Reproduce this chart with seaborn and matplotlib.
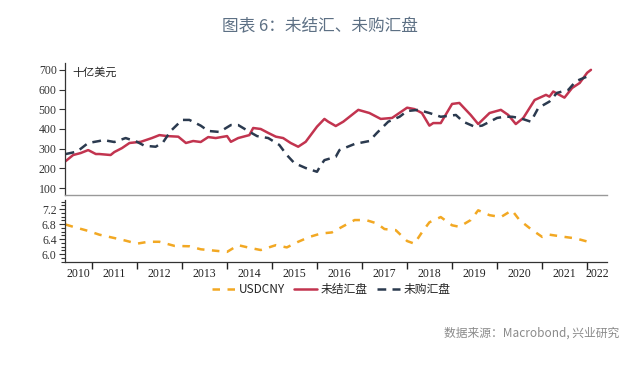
import pandas as pd
import matplotlib.pyplot as plt
import matplotlib.dates as mdates
from matplotlib.ticker import MultipleLocator, FixedLocator, NullFormatter
import seaborn as sns

# Data
red_dates = ['2010-06', '2010-08', '2010-10', '2010-12', '2011-02', '2011-03', '2011-06', '2011-07',
             '2011-09', '2011-11', '2012-02', '2012-05', '2012-07', '2012-09', '2012-12', '2013-02',
             '2013-04', '2013-06', '2013-08', '2013-10', '2014-01', '2014-02', '2014-04', '2014-07',
             '2014-08', '2014-10', '2014-12', '2015-02', '2015-04', '2015-06', '2015-08', '2015-10',
             '2016-01', '2016-03', '2016-04', '2016-06', '2016-08', '2016-12', '2017-03', '2017-06',
             '2017-09', '2018-01', '2018-03', '2018-05', '2018-07', '2018-08', '2018-10', '2019-01',
             '2019-03', '2019-06', '2019-08', '2019-11', '2020-02', '2020-04', '2020-06', '2020-08',
             '2020-11', '2021-02', '2021-03', '2021-04', '2021-07', '2021-09', '2021-11', '2022-01',
             '2022-02']
red_vals = [237, 268, 278, 293, 273, 273, 268, 283, 303, 329, 335, 354, 369, 364, 361, 329,
            339, 334, 359, 354, 364, 335, 354, 369, 405, 400, 380, 361, 354, 329, 310, 335,
            412, 451, 437, 415, 437, 497, 481, 451, 456, 508, 501, 481, 417, 430, 430, 527,
            532, 471, 425, 481, 497, 471, 425, 456, 547, 573, 564, 590, 559, 608, 633, 685,
            700]

navy_dates = ['2010-06', '2010-09', '2010-12', '2011-03', '2011-04', '2011-07', '2011-10', '2012-01',
              '2012-03', '2012-06', '2012-08', '2012-10', '2013-01', '2013-03', '2013-06', '2013-08',
              '2013-11', '2014-02', '2014-04', '2014-07', '2014-09', '2014-12', '2015-03', '2015-05',
              '2015-07', '2015-10', '2016-01', '2016-02', '2016-03', '2016-06', '2016-07', '2016-11',
              '2017-03', '2017-05', '2017-08', '2017-11', '2018-01', '2018-04', '2018-07', '2018-10',
              '2019-02', '2019-04', '2019-07', '2019-09', '2020-01', '2020-03', '2020-05', '2020-07',
              '2020-10', '2020-12', '2021-03', '2021-05', '2021-08', '2021-10', '2022-01', '2022-02']
navy_vals = [273, 285, 329, 339, 344, 334, 354, 335, 315, 310, 334, 390, 446, 446, 417, 390,
             385, 420, 420, 386, 364, 354, 319, 268, 227, 202, 183, 217, 242, 259, 293, 324,
             339, 380, 437, 462, 491, 497, 481, 462, 471, 437, 412, 417, 456, 462, 462, 456,
             437, 507, 539, 583, 598, 642, 666, 666]

fx_dates = ['2010-06', '2010-08', '2010-12', '2011-03', '2011-07', '2011-10', '2012-01', '2012-04',
            '2012-07', '2012-11', '2013-03', '2013-06', '2013-10', '2014-01', '2014-04', '2014-07',
            '2014-10', '2015-02', '2015-05', '2015-08', '2015-11', '2016-02', '2016-05', '2016-07',
            '2016-11', '2017-02', '2017-05', '2017-07', '2017-10', '2018-01', '2018-03', '2018-05',
            '2018-07', '2018-10', '2019-01', '2019-03', '2019-06', '2019-08', '2019-11', '2020-02',
            '2020-05', '2020-07', '2020-10', '2021-01', '2021-03', '2021-07', '2021-10', '2022-02']
fx_vals = [6.79, 6.73, 6.62, 6.52, 6.43, 6.36, 6.28, 6.33, 6.33, 6.22, 6.21, 6.13, 6.09, 6.06,
           6.24, 6.17, 6.11, 6.24, 6.18, 6.33, 6.46, 6.55, 6.58, 6.69, 6.91, 6.91, 6.82, 6.67,
           6.64, 6.35, 6.28, 6.58, 6.85, 6.99, 6.77, 6.73, 6.91, 7.17, 7.04, 6.99, 7.17, 6.91,
           6.67, 6.46, 6.52, 6.46, 6.42, 6.31]

years = list(range(2010, 2023))

df_red = pd.DataFrame({'date': pd.to_datetime(red_dates), 'val': red_vals})
df_navy = pd.DataFrame({'date': pd.to_datetime(navy_dates), 'val': navy_vals})
df_fx = pd.DataFrame({'date': pd.to_datetime(fx_dates), 'val': fx_vals})

sns.set_style('white')
plt.rcParams['font.family'] = ['Liberation Serif', 'Noto Sans CJK SC', 'DejaVu Sans']

RED = '#c2344f'
NAVY = '#2b3a4f'
ORANGE = '#f2a823'

fig = plt.figure(figsize=(6.4, 3.68), dpi=100)
ax1 = fig.add_axes([0.1016, 0.470, 0.847, 0.359])
ax2 = fig.add_axes([0.1016, 0.288, 0.847, 0.168])

sns.lineplot(data=df_red, x='date', y='val', ax=ax1, color=RED, linewidth=1.8, label='未结汇盘')
sns.lineplot(data=df_navy, x='date', y='val', ax=ax1, color=NAVY, linewidth=1.8,
             linestyle=(0, (3.5, 2.5)), label='未购汇盘')
sns.lineplot(data=df_fx, x='date', y='val', ax=ax2, color=ORANGE, linewidth=1.8,
             linestyle=(0, (3, 3)), label='USDCNY')

xmin = pd.Timestamp('2010-05-27')
xmax = pd.Timestamp('2022-06-12')
for ax in (ax1, ax2):
    ax.set_xlim(xmin, xmax)
    ax.set_xlabel('')
    ax.set_ylabel('')
    ax.spines['top'].set_visible(False)
    ax.spines['right'].set_visible(False)
    ax.spines['left'].set_color('#333333')
    ax.spines['left'].set_linewidth(0.9)
    ax.tick_params(axis='y', which='both', direction='out', length=4, width=0.8,
                   colors='#333333', labelsize=8.5, left=True, pad=2)
    ax.get_legend().remove()

# top panel
ax1.set_ylim(65, 735)
ax1.set_yticks(range(100, 701, 100))
ax1.spines['bottom'].set_color('#999999')
ax1.spines['bottom'].set_linewidth(1.0)
ax1.tick_params(axis='x', which='both', bottom=False, labelbottom=False)
ax1.text(0.013, 0.93, '十亿美元', transform=ax1.transAxes, fontsize=8,
         family=['Noto Sans CJK SC'], color='#222222', va='center', ha='left')

# bottom panel
ax2.set_ylim(5.79, 7.44)
ax2.set_yticks([6.0, 6.4, 6.8, 7.2])
ax2.yaxis.set_minor_locator(MultipleLocator(0.1))
ax2.tick_params(axis='y', which='minor', length=3)
ax2.yaxis.set_major_formatter(plt.FuncFormatter(lambda v, p: f'{v:.1f}'))
ax2.spines['bottom'].set_color('#333333')
ax2.spines['bottom'].set_linewidth(0.9)

# year boundary ticks, labels centred on the visible part of each year
bounds = [pd.Timestamp(f'{y}-01-01') for y in years[1:]]
ax2.xaxis.set_major_locator(FixedLocator(mdates.date2num(bounds)))
ax2.xaxis.set_major_formatter(NullFormatter())
x0, x1 = mdates.date2num(xmin), mdates.date2num(xmax)
mids = []
for y in years:
    a = max(mdates.date2num(pd.Timestamp(f'{y}-01-01')), x0)
    b = min(mdates.date2num(pd.Timestamp(f'{y + 1}-01-01')), x1)
    mids.append((a + b) / 2)
ax2.xaxis.set_minor_locator(FixedLocator(mids))
ax2.set_xticklabels([str(y) for y in years], minor=True)
ax2.tick_params(axis='x', which='major', bottom=True, direction='out', length=5, width=1.0,
                colors='#222222')
ax2.tick_params(axis='x', which='minor', bottom=True, length=0, labelsize=8.5,
                colors='#222222', pad=4)

# legend
h2, l2 = ax2.get_legend_handles_labels()
h1, l1 = ax1.get_legend_handles_labels()
leg = fig.legend(h2 + h1, l2 + l1, loc='center', bbox_to_anchor=(0.518, 0.212), ncol=3,
                 frameon=False, handlelength=1.9, columnspacing=0.8, handletextpad=0.35,
                 prop={'family': ['Noto Sans CJK SC'], 'size': 8.5})

fig.text(0.5, 0.927, '图表 6：未结汇、未购汇盘', ha='center', va='center', fontsize=12,
         color='#5d7084', family=['Noto Sans CJK SC'])
fig.text(0.968, 0.095, '数据来源：Macrobond, 兴业研究', ha='right', va='center', fontsize=8.5,
         color='#8a8a8a', family=['Noto Sans CJK SC'])

fig.savefig('out.png', dpi=100)
